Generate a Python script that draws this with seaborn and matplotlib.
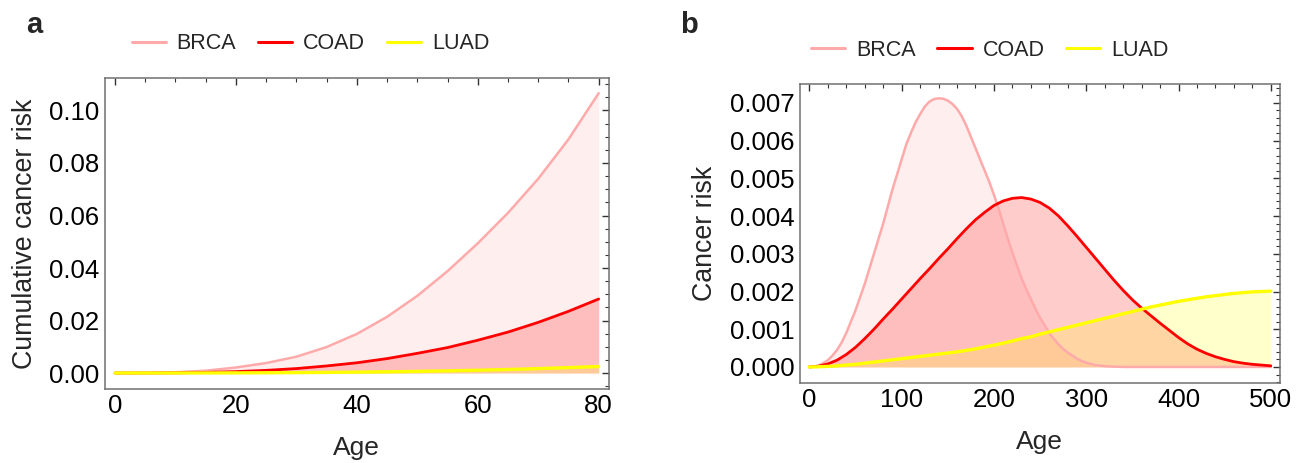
import numpy as np
import pandas as pd
import matplotlib
matplotlib.use("Agg")
import matplotlib.pyplot as plt
import seaborn as sns
from matplotlib.ticker import MultipleLocator, FormatStrFormatter
from matplotlib.lines import Line2D

## Data
cancers = ["BRCA", "COAD", "LUAD"]
colors = ["#FFAAAA", "#FF0000", "#FFFF00"]

# panel a: cumulative risk, age 0..80 step 5
age_a = [0, 5, 10, 15, 20, 25, 30, 35, 40, 45, 50, 55, 60, 65, 70, 75, 80]
brca_cum = [0, 0.00006, 0.0003, 0.0009, 0.0021, 0.0038, 0.0062, 0.0099, 0.0149,
            0.0214, 0.0294, 0.0388, 0.0494, 0.0610, 0.0740, 0.0890, 0.1066]
coad_cum = [0, 0.00001, 0.00007, 0.00024, 0.00054, 0.00102, 0.0017, 0.0027, 0.0039,
            0.0055, 0.0075, 0.0097, 0.0125, 0.0156, 0.0193, 0.0235, 0.0282]
luad_cum = [0, 0.000003, 0.00001, 0.00003, 0.00006, 0.0001, 0.00016, 0.00024, 0.00034,
            0.00047, 0.00063, 0.00083, 0.00107, 0.00135, 0.00168, 0.00207, 0.0025]

# panel b: risk; BRCA read every 5 years (sharp peak), the others every 10
age_b_brca = list(range(0, 315, 5)) + [320, 330, 340, 400, 500]
brca_risk = [0, 0.00001, 0.00004, 0.0001, 0.00018, 0.0003, 0.00045, 0.00065, 0.0009, 0.0012,
             0.0015, 0.00185, 0.0022, 0.0026, 0.003, 0.0034, 0.0038, 0.00425, 0.0047, 0.0051,
             0.0055, 0.0059, 0.0062, 0.00648, 0.0067, 0.0069, 0.00703, 0.0071, 0.00712, 0.00711,
             0.00706, 0.00697, 0.00684, 0.00665, 0.0064, 0.0061, 0.0058, 0.0055, 0.0052, 0.0049,
             0.00456, 0.0042, 0.0038, 0.0034, 0.00303, 0.00268, 0.00235, 0.00206, 0.0018, 0.00154,
             0.0013, 0.0011, 0.0009, 0.00074, 0.0006, 0.00048, 0.00038, 0.0003, 0.00022, 0.00016,
             0.00011, 0.00008, 0.00005, 0.00002, 0.00001, 0, 0, 0]

age_b = list(range(0, 510, 10))
coad_risk = [0, 0.00002, 0.00008, 0.00018, 0.00033, 0.00052, 0.00075, 0.001, 0.00127, 0.00153,
             0.0018, 0.00207, 0.00234, 0.0026, 0.00287, 0.00313, 0.0034, 0.00366, 0.0039, 0.0041,
             0.00428, 0.0044, 0.00447, 0.00449, 0.00445, 0.00436, 0.00421, 0.004, 0.00374, 0.00346,
             0.00317, 0.00288, 0.00259, 0.0023, 0.00203, 0.00178, 0.00156, 0.00136, 0.00116, 0.00097,
             0.00078, 0.00061, 0.00047, 0.00036, 0.00027, 0.0002, 0.00014, 0.0001, 0.00007, 0.00005,
             0.00003]
luad_risk = [0, 0.000005, 0.000015, 0.00003, 0.00005, 0.00007, 0.0001, 0.00013, 0.00016, 0.00019,
             0.00022, 0.00025, 0.00028, 0.00031, 0.00034, 0.00037, 0.0004, 0.00044, 0.00048, 0.00053,
             0.00058, 0.00063, 0.00069, 0.00075, 0.0008, 0.00087, 0.00093, 0.00099, 0.00105, 0.00111,
             0.00117, 0.00123, 0.00129, 0.00135, 0.00141, 0.00147, 0.00153, 0.00159, 0.00164, 0.00169,
             0.00174, 0.00178, 0.00182, 0.00186, 0.00189, 0.00192, 0.00195, 0.00197, 0.00199, 0.002,
             0.00201]

df_a = pd.DataFrame({"Age": age_a * 3,
                     "risk": brca_cum + coad_cum + luad_cum,
                     "cancer": np.repeat(cancers, len(age_a))})
df_b = pd.DataFrame({"Age": age_b_brca + age_b * 2,
                     "risk": brca_risk + coad_risk + luad_risk,
                     "cancer": ["BRCA"] * len(age_b_brca) + ["COAD"] * len(age_b) + ["LUAD"] * len(age_b)})

## Style
sns.set_theme(style="white")
plt.rcParams["font.family"] = ["Liberation Sans", "DejaVu Sans"]
frame_col = "#707070"
lws = [1.8, 2.0, 2.4]
palette = dict(zip(cancers, colors))

fig = plt.figure(figsize=(13.04, 4.63), dpi=100)
ax_a = fig.add_axes([0.0803, 0.1603, 0.3867, 0.6708])
ax_b = fig.add_axes([0.6133, 0.1732, 0.3683, 0.6454])


def draw_panel(ax, df):
    for c, col in zip(cancers, colors):
        sub = df[df["cancer"] == c]
        ax.fill_between(sub["Age"], 0, sub["risk"], color=col, alpha=0.2, lw=0)
    for c, lw in zip(cancers, lws):
        sns.lineplot(data=df[df["cancer"] == c], x="Age", y="risk", color=palette[c],
                     lw=lw, ax=ax, legend=False, solid_joinstyle="round")
    for s in ax.spines.values():
        s.set_color(frame_col)
        s.set_linewidth(1.1)
    ax.tick_params(which="both", direction="in", top=True, right=True,
                   colors="#333333", labelcolor="black", labelsize=18.5, pad=4)
    ax.tick_params(which="major", length=5, width=1)
    ax.tick_params(which="minor", length=3, width=0.8)
    ax.set_xlabel("Age", fontsize=19, labelpad=13)


draw_panel(ax_a, df_a)
ax_a.set_xlim(-1.7, 81.7)
ax_a.set_ylim(-0.006, 0.1123)
ax_a.xaxis.set_major_locator(MultipleLocator(20))
ax_a.xaxis.set_minor_locator(MultipleLocator(5))
ax_a.yaxis.set_major_locator(MultipleLocator(0.02))
ax_a.yaxis.set_minor_locator(MultipleLocator(0.005))
ax_a.yaxis.set_major_formatter(FormatStrFormatter("%.2f"))
ax_a.set_ylabel("Cumulative cancer risk", fontsize=19.3, labelpad=8)

draw_panel(ax_b, df_b)
ax_b.set_xlim(-10.4, 509.9)
ax_b.set_ylim(-0.00042, 0.0075)
ax_b.xaxis.set_major_locator(MultipleLocator(100))
ax_b.xaxis.set_minor_locator(MultipleLocator(20))
ax_b.yaxis.set_major_locator(MultipleLocator(0.001))
ax_b.yaxis.set_minor_locator(MultipleLocator(0.0002))
ax_b.yaxis.set_major_formatter(FormatStrFormatter("%.3f"))
ax_b.set_ylabel("Cancer risk", fontsize=19.3, labelpad=8)

## Legends above each panel
handles = [Line2D([], [], color=col, lw=2.2) for col in colors]
for ax, xc, yc in [(ax_a, 0.238, 0.905), (ax_b, 0.759, 0.892)]:
    ax.legend(handles, cancers, loc="center", bbox_to_anchor=(xc, yc),
              bbox_transform=fig.transFigure, ncol=3, frameon=False,
              fontsize=15.5, handlelength=1.6, handletextpad=0.5,
              columnspacing=1.0, borderpad=0)

fig.text(34 / 1304, 1 - 33 / 463, "a", fontsize=21, fontweight="bold",
         ha="center", va="baseline")
fig.text(689 / 1304, 1 - 33 / 463, "b", fontsize=21, fontweight="bold",
         ha="center", va="baseline")

fig.savefig("out.png", dpi=100)
